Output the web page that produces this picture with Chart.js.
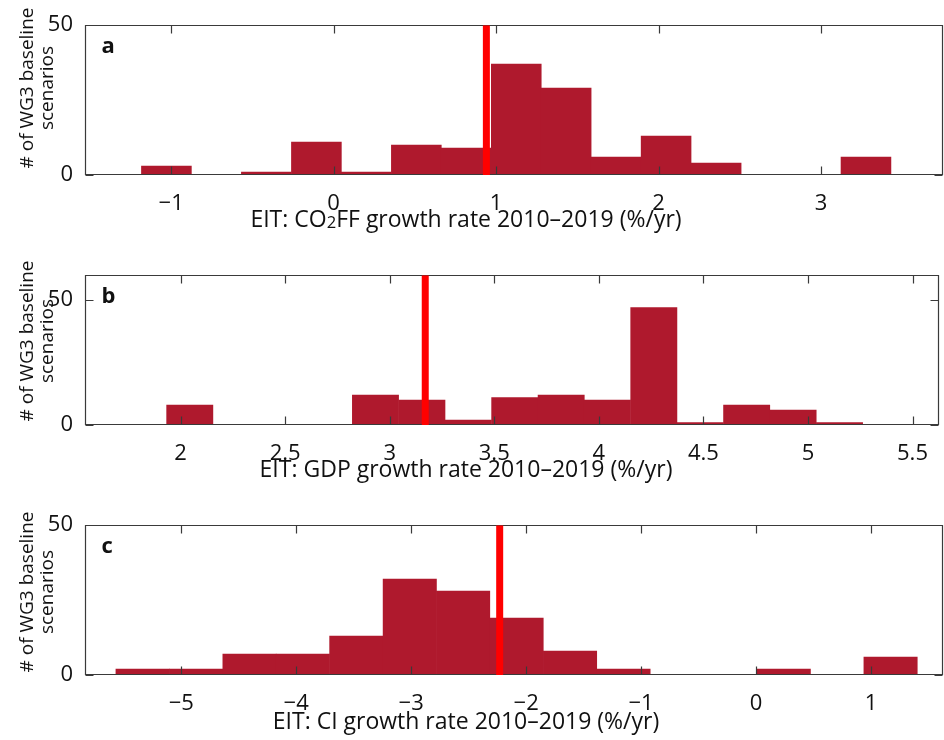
<!DOCTYPE html>
<html>
<head>
<meta charset="utf-8">
<script src="https://cdn.jsdelivr.net/npm/chart.js@4.4.0/dist/chart.umd.min.js"></script>
<style>
  html, body { margin: 0; padding: 0; background: #fff; width: 944px; height: 740px; overflow: hidden; }
  canvas { position: absolute; left: 0; }
</style>
</head>
<body>
<canvas id="panelA" width="944" height="250" style="top:0px"></canvas>
<canvas id="panelB" width="944" height="250" style="top:250px"></canvas>
<canvas id="panelC" width="944" height="240" style="top:500px"></canvas>
<script>
// Panel a: CO2 fossil-fuel growth rate histogram
const co2ffBinCenters = [-1.029, -0.721, -0.414, -0.106, 0.201, 0.509, 0.816, 1.124, 1.431, 1.739, 2.046, 2.354, 2.661, 2.969, 3.276];
const co2ffCounts     = [3, 0, 1, 11, 1, 10, 9, 37, 29, 6, 13, 4, 0, 0, 6];
const co2ffObserved   = 0.94;
const co2ffTicks      = [-1, 0, 1, 2, 3];

// Panel b: GDP growth rate histogram
const gdpBinCenters = [2.044, 2.266, 2.488, 2.710, 2.932, 3.154, 3.376, 3.598, 3.820, 4.041, 4.263, 4.485, 4.707, 4.929, 5.151];
const gdpCounts     = [8, 0, 0, 0, 12, 10, 2, 11, 12, 10, 47, 1, 8, 6, 1];
const gdpObserved   = 3.17;
const gdpTicks      = [2, 2.5, 3, 3.5, 4, 4.5, 5, 5.5];

// Panel c: carbon intensity growth rate histogram
const ciBinCenters = [-5.336, -4.871, -4.406, -3.942, -3.477, -3.012, -2.548, -2.083, -1.618, -1.153, -0.689, -0.224, 0.241, 0.706, 1.170];
const ciCounts     = [2, 2, 7, 7, 13, 32, 28, 19, 8, 2, 0, 0, 2, 0, 6];
const ciObserved   = -2.23;
const ciTicks      = [-5, -4, -3, -2, -1, 0, 1];

const countTicks = [0, 50];
const yTitleLines = ['# of WG3 baseline', 'scenarios'];

const FONT = "'Open Sans', 'Noto Sans', sans-serif";
const BAR_COLOR = '#AF192D';
const OBS_COLOR = '#FF0000';
const AXIS_COLOR = '#3a3a3a';
const PLOT_TOP = 20, PLOT_BOTTOM = 175, PLOT_LEFT = 85;

const fmtTick = v => String(v).replace('-', '\u2212');

// frame + inward ticks, drawn right after the histogram bars (below the red marker)
const framePlugin = {
  id: 'boxFrame',
  afterDatasetDraw(chart, args) {
    if (args.meta.type !== 'bar') return;
    const { ctx, chartArea: a, scales: { x, y } } = chart;
    const L = Math.round(a.left) + 0.5, R = Math.round(a.right) - 0.5;
    const T = Math.round(a.top) + 0.5, B = Math.round(a.bottom) - 0.5;
    const tl = 8;
    ctx.save();
    ctx.strokeStyle = AXIS_COLOR;
    ctx.lineWidth = 1.2;
    ctx.beginPath();
    ctx.rect(L, T, R - L, B - T);
    x.ticks.forEach(t => {
      const px = Math.round(x.getPixelForValue(t.value)) + 0.5;
      ctx.moveTo(px, B); ctx.lineTo(px, B - tl);
      ctx.moveTo(px, T); ctx.lineTo(px, T + tl);
    });
    y.ticks.forEach(t => {
      const py = Math.round(y.getPixelForValue(t.value)) + 0.5;
      ctx.moveTo(L, py); ctx.lineTo(L + tl, py);
      ctx.moveTo(R, py); ctx.lineTo(R - tl, py);
    });
    ctx.stroke();
    ctx.restore();
  }
};

// panel letter, x-axis title (with subscript runs) and two-line y-axis title
const textPlugin = {
  id: 'panelText',
  afterDraw(chart, args, opts) {
    const { ctx, chartArea: a } = chart;
    ctx.save();
    ctx.fillStyle = '#111';
    ctx.textBaseline = 'alphabetic';

    ctx.font = `bold 22px ${FONT}`;
    ctx.textAlign = 'left';
    ctx.fillText(opts.letter, 101.5, a.top + 27.5);

    const size = 23;
    const runs = opts.xTitle;
    let total = 0;
    runs.forEach(([txt, scale]) => {
      ctx.font = `${(size * scale).toFixed(1)}px ${FONT}`;
      total += ctx.measureText(txt).width;
    });
    let cx = opts.xTitleCenter - total / 2;
    const base = a.bottom + opts.xTitleOffset;
    runs.forEach(([txt, scale]) => {
      ctx.font = `${(size * scale).toFixed(1)}px ${FONT}`;
      ctx.fillText(txt, cx, base + (scale < 1 ? 1 : 0));
      cx += ctx.measureText(txt).width;
    });

    ctx.font = `19px ${FONT}`;
    ctx.textAlign = 'center';
    const baselines = [33, 53];
    yTitleLines.forEach((line, i) => {
      ctx.save();
      ctx.translate(baselines[i], opts.yTitleCenter);
      ctx.rotate(-Math.PI / 2);
      ctx.fillText(line, 0, 0);
      ctx.restore();
    });
    ctx.restore();
  }
};

function makePanel(id, cfg) {
  const canvas = document.getElementById(id);
  const H = canvas.height;
  return new Chart(canvas, {
    type: 'bar',
    data: {
      datasets: [
        {
          type: 'bar',
          data: cfg.centers.map((c, i) => ({ x: c, y: cfg.counts[i] })),
          backgroundColor: BAR_COLOR,
          borderWidth: 0,
          barPercentage: 1,
          categoryPercentage: 1,
          order: 1
        },
        {
          type: 'line',
          data: [{ x: cfg.observed, y: 0 }, { x: cfg.observed, y: cfg.yMax }],
          borderColor: OBS_COLOR,
          borderWidth: 7,
          borderCapStyle: 'butt',
          pointRadius: 0,
          tension: 0,
          order: 0
        }
      ]
    },
    options: {
      responsive: false,
      animation: false,
      devicePixelRatio: 1,
      layout: { padding: { left: 0, right: 1, top: PLOT_TOP, bottom: 0 } },
      plugins: {
        legend: { display: false },
        tooltip: { enabled: false },
        panelText: {
          letter: cfg.letter,
          xTitle: cfg.xTitle,
          xTitleCenter: 466,
          xTitleOffset: cfg.xTitleOffset,
          yTitleCenter: cfg.yTitleCenter
        }
      },
      scales: {
        x: {
          type: 'linear',
          position: 'bottom',
          min: cfg.xMin,
          max: cfg.xMax,
          offset: false,
          grid: { display: false, drawTicks: false, offset: false },
          border: { display: false },
          ticks: {
            autoSkip: false,
            maxRotation: 0,
            padding: 16,
            color: '#111',
            font: { family: FONT, size: 22 },
            callback: v => fmtTick(v)
          },
          afterBuildTicks: s => { s.ticks = cfg.xTicks.map(v => ({ value: v })); },
          afterFit: s => { s.height = H - PLOT_BOTTOM; }
        },
        y: {
          type: 'linear',
          min: 0,
          max: cfg.yMax,
          grid: { display: false, drawTicks: false },
          border: { display: false },
          ticks: {
            padding: 12,
            color: '#111',
            font: { family: FONT, size: 22 },
            callback: v => fmtTick(v)
          },
          afterBuildTicks: s => { s.ticks = countTicks.map(v => ({ value: v })); },
          afterFit: s => { s.width = PLOT_LEFT; }
        }
      }
    },
    plugins: [framePlugin, textPlugin]
  });
}

makePanel('panelA', {
  centers: co2ffBinCenters, counts: co2ffCounts, observed: co2ffObserved,
  xTicks: co2ffTicks, xMin: -1.53, xMax: 3.75, yMax: 50, letter: 'a',
  xTitle: [['EIT: CO', 1], ['2', 0.72], ['FF growth rate 2010\u20132019 (%/yr)', 1]],
  xTitleOffset: 52, yTitleCenter: 88
});
makePanel('panelB', {
  centers: gdpBinCenters, counts: gdpCounts, observed: gdpObserved,
  xTicks: gdpTicks, xMin: 1.543, xMax: 5.625, yMax: 60, letter: 'b',
  xTitle: [['EIT: GDP growth rate 2010\u20132019 (%/yr)', 1]],
  xTitleOffset: 52, yTitleCenter: 91
});
makePanel('panelC', {
  centers: ciBinCenters, counts: ciCounts, observed: ciObserved,
  xTicks: ciTicks, xMin: -5.837, xMax: 1.626, yMax: 50, letter: 'c',
  xTitle: [['EIT: CI growth rate 2010\u20132019 (%/yr)', 1]],
  xTitleOffset: 54, yTitleCenter: 92
});
</script>
</body>
</html>
